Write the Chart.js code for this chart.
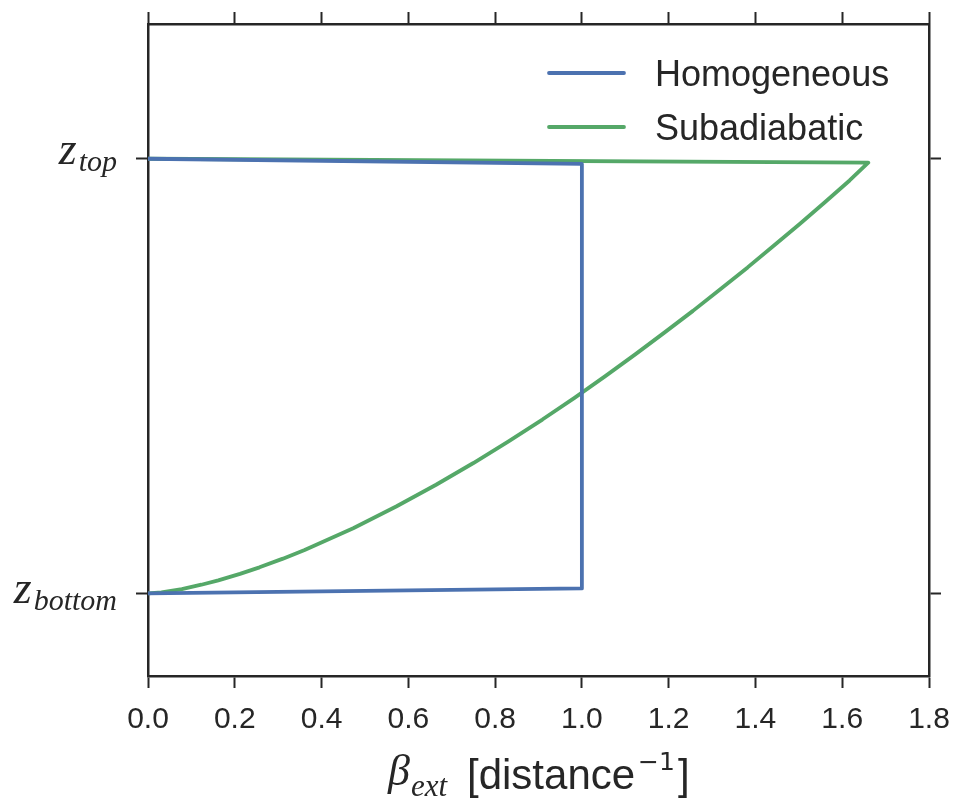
<!DOCTYPE html>
<html>
<head>
<meta charset="utf-8">
<script src="https://cdn.jsdelivr.net/npm/chart.js@4"></script>
<style>
  html, body { margin: 0; padding: 0; background: #fff; }
  #wrap { width: 955px; height: 798px; }
</style>
</head>
<body>
<div id="wrap"><canvas id="c" width="955" height="798"></canvas></div>
<script>
// ---- data (y: 0 = z_bottom, 1 = z_top) ----
const homLabel = 'Homogeneous';
const homX = [0, 1.0, 1.0, 0];
const homY = [0, 0.0115, 0.988, 1.0];

const subLabel = 'Subadiabatic';
const subX = [0, 0.031, 0.078, 0.123, 0.162, 0.212, 0.257, 0.311, 0.361, 0.473, 0.572,
              0.664, 0.750, 0.831, 0.909, 0.983, 1.054, 1.123, 1.190, 1.256, 1.319,
              1.382, 1.442, 1.502, 1.560, 1.617, 1.660, 0];
const subY = [0, 0.0025, 0.01, 0.02, 0.03, 0.045, 0.06, 0.08, 0.10, 0.15, 0.20,
              0.25, 0.30, 0.35, 0.40, 0.45, 0.50, 0.55, 0.60, 0.65, 0.70,
              0.75, 0.80, 0.85, 0.90, 0.95, 0.991, 1.0];

const xTicks = [0, 0.2, 0.4, 0.6, 0.8, 1.0, 1.2, 1.4, 1.6, 1.8];
const yTickValues = [0, 1];
const yTickLabels = [['z', 'bottom'], ['z', 'top']];

const BLUE = '#4C72B0';
const GREEN = '#55A868';
const INK = '#262626';

const toPoints = (xs, ys) => xs.map((x, i) => ({ x, y: ys[i] }));

/* ---------- custom text: y labels, x title, legend ---------- */
const textPlugin = {
    id: 'mathText',
    afterDraw(chart) {
        const ctx = chart.ctx;
        const y = chart.scales.y;
        ctx.save();
        ctx.fillStyle = INK;
        ctx.textBaseline = 'alphabetic';
        ctx.textAlign = 'left';

        // y tick labels  z_top / z_bottom
        yTickValues.forEach((v, i) => {
            const py = y.getPixelForValue(v);
            const [main, sub] = yTickLabels[i];
            ctx.font = 'italic 46px "Liberation Serif"';
            const wMain = ctx.measureText(main).width;
            ctx.font = 'italic 30px "Liberation Serif"';
            const wSub = ctx.measureText(sub).width;
            const right = 117;
            const x0 = right - wSub - wMain - 2;
            const dz = sub === 'top' ? 5 : 10;
            ctx.font = 'italic 46px "Liberation Serif"';
            ctx.fillText(main, x0, py + dz);
            ctx.font = 'italic 30px "Liberation Serif"';
            ctx.fillText(sub, x0 + wMain + 2, py + dz + 7);
        });

        // x axis title  beta_ext [distance^-1]
        let x = 388;
        ctx.font = 'italic 44px "Liberation Serif"';
        ctx.fillText('β', x, 785);
        x += ctx.measureText('β').width + 1;
        ctx.font = 'italic 31px "Liberation Serif"';
        ctx.fillText('ext', x, 796);
        x = 467;
        ctx.font = '42px "Liberation Sans"';
        ctx.fillText('[distance', x, 789);
        x += ctx.measureText('[distance').width + 3;
        ctx.font = '25px "DejaVu Sans"';
        ctx.fillText('−1', x, 770);
        x += ctx.measureText('−1').width + 3;
        ctx.font = '42px "Liberation Sans"';
        ctx.fillText(']', x, 789);

        // legend
        const items = chart.data.datasets;
        items.forEach((ds, i) => {
            const ly = 73 + i * 54;
            ctx.strokeStyle = ds.borderColor;
            ctx.lineWidth = 3.8;
            ctx.lineCap = 'round';
            ctx.beginPath();
            ctx.moveTo(549, ly);
            ctx.lineTo(624, ly);
            ctx.stroke();
            ctx.font = '36px "Liberation Sans"';
            ctx.fillText(ds.label, 655, ly + 13);
        });
        ctx.restore();
    }
};

const tickGrid = {
    display: true,
    drawOnChartArea: false,
    drawTicks: true,
    tickLength: 12,
    tickWidth: 2,
    tickColor: INK
};
const frame = { display: true, color: INK, width: 2.5 };

const noPad = s => { s.paddingLeft = 0; s.paddingRight = 0; };

new Chart(document.getElementById('c').getContext('2d'), {
    type: 'scatter',
    data: {
        datasets: [
            {
                label: homLabel,
                data: toPoints(homX, homY),
                showLine: true,
                borderColor: BLUE,
                borderWidth: 3.8,
                pointRadius: 0,
                borderJoinStyle: 'round',
                tension: 0
            },
            {
                label: subLabel,
                data: toPoints(subX, subY),
                showLine: true,
                borderColor: GREEN,
                borderWidth: 3.8,
                pointRadius: 0,
                borderJoinStyle: 'round',
                tension: 0
            }
        ]
    },
    options: {
        responsive: false,
        animation: false,
        layout: { padding: 0 },
        plugins: {
            legend: { display: false },
            tooltip: { enabled: false }
        },
        scales: {
            x: {
                type: 'linear',
                position: 'bottom',
                min: 0,
                max: 1.8,
                afterBuildTicks: s => { s.ticks = xTicks.map(v => ({ value: v })); },
                ticks: {
                    color: INK,
                    padding: 14,
                    font: { family: '"Liberation Sans"', size: 30 },
                    callback: v => Number(v).toFixed(1)
                },
                grid: tickGrid,
                border: frame,
                afterFit: s => { s.height = 122; noPad(s); }
            },
            x2: {
                type: 'linear',
                position: 'top',
                min: 0,
                max: 1.8,
                afterBuildTicks: s => { s.ticks = xTicks.map(v => ({ value: v })); },
                ticks: { display: false },
                grid: tickGrid,
                border: frame,
                afterFit: s => { s.height = 24; noPad(s); }
            },
            y: {
                type: 'linear',
                position: 'left',
                min: -0.19,
                max: 1.31,
                afterBuildTicks: s => { s.ticks = yTickValues.map(v => ({ value: v })); },
                ticks: { display: false },
                grid: tickGrid,
                border: frame,
                afterFit: s => { s.width = 148; }
            },
            y2: {
                type: 'linear',
                position: 'right',
                min: -0.19,
                max: 1.31,
                afterBuildTicks: s => { s.ticks = yTickValues.map(v => ({ value: v })); },
                ticks: { display: false },
                grid: tickGrid,
                border: frame,
                afterFit: s => { s.width = 26; }
            }
        }
    },
    plugins: [textPlugin]
});
</script>
</body>
</html>
